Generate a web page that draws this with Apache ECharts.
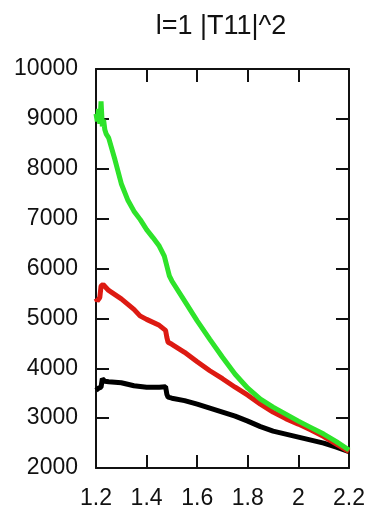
<!DOCTYPE html>
<html>
<head>
<meta charset="utf-8">
<script src="https://cdn.jsdelivr.net/npm/echarts@6/dist/echarts.min.js"></script>
<style>
html,body{margin:0;padding:0;background:#fff;}
#chart{width:372px;height:514px;}
</style>
</head>
<body>
<div id="chart"></div>
<script>
var titleText = 'l=1 |T11|^2';
var xTicks = [1.2, 1.4, 1.6, 1.8, 2, 2.2];
var yTicks = [2000, 3000, 4000, 5000, 6000, 7000, 8000, 9000, 10000];

var blackX = [1.20,1.21,1.22,1.225,1.235,1.25,1.30,1.35,1.40,1.45,1.475,1.48,1.485,1.50,1.55,1.60,1.65,1.70,1.75,1.80,1.85,1.90,1.95,2.00,2.05,2.10,2.15,2.20];
var blackY = [3560,3600,3620,3790,3740,3730,3710,3650,3620,3620,3630,3480,3420,3400,3350,3280,3200,3120,3040,2940,2830,2740,2680,2620,2560,2500,2420,2330];

var redX = [1.20,1.205,1.21,1.215,1.22,1.228,1.25,1.30,1.35,1.374,1.40,1.45,1.475,1.48,1.485,1.50,1.55,1.60,1.65,1.70,1.75,1.80,1.85,1.90,1.95,2.00,2.05,2.10,2.15,2.20];
var redY = [5400,5350,5380,5420,5650,5680,5560,5390,5180,5050,4980,4860,4760,4620,4520,4480,4320,4130,3950,3790,3620,3460,3280,3120,2990,2880,2760,2630,2480,2330];

var greenX = [1.20,1.205,1.21,1.215,1.22,1.225,1.23,1.235,1.24,1.25,1.275,1.30,1.325,1.35,1.375,1.40,1.425,1.45,1.47,1.48,1.49,1.50,1.55,1.60,1.65,1.70,1.75,1.80,1.85,1.90,1.95,2.00,2.05,2.10,2.15,2.20];
var greenY = [9100,8950,9200,8900,9350,8850,8980,8780,8700,8620,8180,7700,7380,7150,6980,6780,6620,6450,6250,6050,5850,5750,5350,4950,4580,4220,3880,3600,3380,3220,3080,2940,2810,2680,2530,2360];

function pairs(xs, ys){ return xs.map(function(x,i){ return [x, ys[i]]; }); }

var chart = echarts.init(document.getElementById('chart'), null, {renderer:'canvas'});
var axisLine = {show:true, lineStyle:{color:'#111', width:2}};
var tick = {show:true, inside:true, length:13, lineStyle:{color:'#111', width:2}};
var font = 'Liberation Sans, Arial, sans-serif';

function fmtX(v){ var r = Math.round(v*10)/10; return xTicks.indexOf(r) >= 0 ? String(r) : ''; }
function fmtY(v){ return yTicks.indexOf(Math.round(v)) >= 0 ? String(Math.round(v)) : ''; }

chart.setOption({
  animation:false,
  backgroundColor:'#fff',
  title:{text:titleText, left:216, top:8, textAlign:'center',
    textStyle:{fontFamily:font, fontSize:27, fontWeight:'normal', color:'#111'}},
  grid:{left:96, right:23, top:69, bottom:46},
  xAxis:[
    {type:'value', position:'bottom', min:1.2, max:2.2, interval:0.2,
     axisLine:axisLine, axisTick:tick, splitLine:{show:false},
     axisLabel:{formatter:fmtX, fontFamily:font, fontSize:23, color:'#111', margin:19, showMinLabel:true, showMaxLabel:true}},
    {type:'value', position:'top', min:1.2, max:2.2, interval:0.2,
     axisLine:axisLine, axisTick:tick, splitLine:{show:false}, axisLabel:{show:false}}
  ],
  yAxis:[
    {type:'value', position:'left', min:2000, max:10000, interval:1000,
     axisLine:axisLine, axisTick:tick, splitLine:{show:false},
     axisLabel:{formatter:fmtY, fontFamily:font, fontSize:23, color:'#111', margin:18}},
    {type:'value', position:'right', min:2000, max:10000, interval:1000,
     axisLine:axisLine, axisTick:tick, splitLine:{show:false}, axisLabel:{show:false}}
  ],
  series:[
    {type:'line', data:pairs(blackX, blackY), showSymbol:false, lineStyle:{color:'#000', width:5}, itemStyle:{color:'#000'}},
    {type:'line', data:pairs(redX, redY), showSymbol:false, lineStyle:{color:'#dd1a12', width:5}, itemStyle:{color:'#dd1a12'}},
    {type:'line', data:pairs(greenX, greenY), showSymbol:false, lineStyle:{color:'#2ee32a', width:5}, itemStyle:{color:'#2ee32a'}}
  ]
});
</script>
</body>
</html>
